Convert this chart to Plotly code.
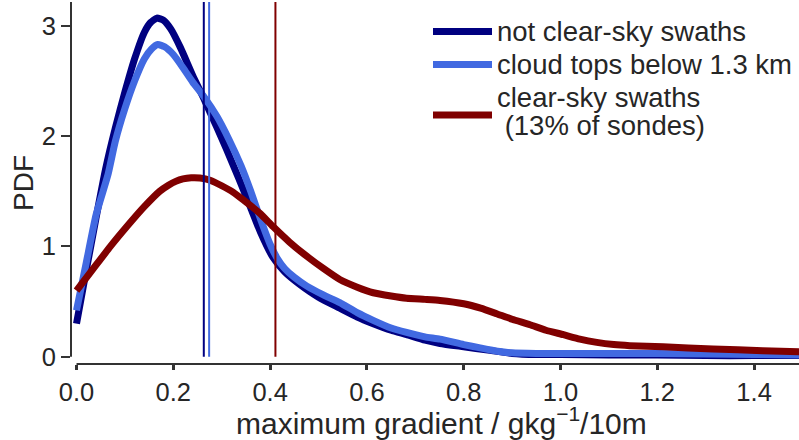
import plotly.graph_objects as go

# ---- data ----
x_notclear = [0, 0.02, 0.04, 0.06, 0.08, 0.10, 0.12, 0.14, 0.153, 0.166, 0.18, 0.195, 0.215, 0.24, 0.263,
              0.29, 0.31, 0.335, 0.36, 0.38, 0.406, 0.43, 0.46, 0.50, 0.544, 0.58, 0.613, 0.65, 0.682,
              0.72, 0.751, 0.80, 0.85, 0.90, 0.95, 1.0, 1.1, 1.2, 1.3, 1.4, 1.5]
y_notclear = [0.30, 0.78, 1.25, 1.70, 2.07, 2.40, 2.70, 2.94, 3.03, 3.07, 3.05, 2.97, 2.80, 2.55, 2.34,
              2.08, 1.88, 1.62, 1.35, 1.13, 0.90, 0.77, 0.66, 0.54, 0.44, 0.36, 0.30, 0.24, 0.20,
              0.15, 0.12, 0.09, 0.06, 0.03, 0.02, 0.02, 0.015, 0.015, 0.01, 0.01, 0.01]

x_lowtops = [0, 0.02, 0.04, 0.065, 0.08, 0.10, 0.12, 0.14, 0.155, 0.168, 0.182, 0.20, 0.22, 0.24, 0.263,
             0.29, 0.315, 0.34, 0.36, 0.38, 0.40, 0.415, 0.43, 0.45, 0.476, 0.51, 0.544, 0.58, 0.613,
             0.65, 0.682, 0.72, 0.751, 0.80, 0.834, 0.87, 0.90, 0.95, 1.0, 1.1, 1.2, 1.3, 1.4, 1.5]
y_lowtops = [0.42, 0.85, 1.28, 1.65, 1.95, 2.25, 2.50, 2.70, 2.79, 2.83, 2.81, 2.74, 2.62, 2.49, 2.36,
             2.18, 1.97, 1.73, 1.50, 1.25, 1.02, 0.89, 0.80, 0.72, 0.64, 0.56, 0.49, 0.40, 0.33,
             0.26, 0.22, 0.18, 0.16, 0.11, 0.08, 0.05, 0.035, 0.03, 0.03, 0.03, 0.03, 0.025, 0.02, 0.015]

x_clear = [0, 0.035, 0.07, 0.104, 0.14, 0.172, 0.19, 0.205, 0.22, 0.237, 0.255, 0.276, 0.30, 0.324,
           0.345, 0.379, 0.406, 0.44, 0.476, 0.51, 0.544, 0.58, 0.613, 0.65, 0.682, 0.72, 0.751,
           0.80, 0.835, 0.868, 0.90, 0.937, 0.97, 1.006, 1.04, 1.075, 1.11, 1.143, 1.212, 1.315,
           1.418, 1.5]
y_clear = [0.60, 0.80, 1.00, 1.18, 1.36, 1.50, 1.555, 1.59, 1.612, 1.622, 1.62, 1.60, 1.55, 1.49,
           1.42, 1.30, 1.18, 1.04, 0.91, 0.80, 0.70, 0.63, 0.58, 0.55, 0.53, 0.52, 0.51,
           0.48, 0.44, 0.39, 0.34, 0.29, 0.24, 0.20, 0.16, 0.13, 0.11, 0.10, 0.09, 0.07,
           0.055, 0.045]

series_names = ["not clear-sky swaths", "cloud tops below 1.3 km", "clear-sky swaths"]
legend_lines = [["not clear-sky swaths"], ["cloud tops below 1.3 km"],
                ["clear-sky swaths", "\u00a0(13% of sondes)"]]
series_colors = ["#000080", "#4169E1", "#800000"]
mean_values = [0.263, 0.274, 0.411]

x_ticks = [0.0, 0.2, 0.4, 0.6, 0.8, 1.0, 1.2, 1.4]
y_ticks = [0, 1, 2, 3]

X_RANGE = [-0.0114, 1.4928]
Y_RANGE = [-0.066, 3.216]

FONT = "Arial, Liberation Sans, Helvetica, sans-serif"
TXT = "#262626"
AX = "#333333"

# figure geometry (pixels) used for placing the hand-built legend
W, H = 799, 440
ML, MR, MT, MB = 71, 0, 2, 76
PW, PH = W - ML - MR, H - MT - MB


def px_x(px):
    return (px - ML) / PW


def px_y(py):
    return (H - MB - py) / PH


fig = go.Figure()
for xs, ys, name, col in zip([x_notclear, x_lowtops, x_clear], [y_notclear, y_lowtops, y_clear],
                             series_names, series_colors):
    fig.add_trace(go.Scatter(x=xs, y=ys, mode="lines", name=name, showlegend=False,
                             line=dict(color=col, width=7, shape="spline", smoothing=0.5)))

for m, col in zip(mean_values, series_colors):
    fig.add_trace(go.Scatter(x=[m, m], y=[0, Y_RANGE[1]], mode="lines", showlegend=False,
                             line=dict(color=col, width=2), hoverinfo="skip"))

# spines (offset, seaborn style)
fig.add_shape(type="line", xref="paper", yref="y", x0=0, x1=0, y0=0, y1=Y_RANGE[1],
              line=dict(color=AX, width=2))
fig.add_shape(type="line", xref="x", yref="paper", x0=0, x1=X_RANGE[1], y0=0, y1=0,
              line=dict(color=AX, width=2))

# legend (sample lines + labels)
sample_y = [31.5, 64.5, 115]
text_y = [[31.5], [64.5], [97.5, 125.5]]
for col, sy, lines, tys in zip(series_colors, sample_y, legend_lines, text_y):
    fig.add_shape(type="line", xref="paper", yref="paper", x0=px_x(433), x1=px_x(492),
                  y0=px_y(sy), y1=px_y(sy), line=dict(color=col, width=7))
    for t, ty in zip(lines, tys):
        fig.add_annotation(text=t, xref="paper", yref="paper", x=px_x(495), y=px_y(ty),
                           xanchor="left", yanchor="middle", showarrow=False,
                           font=dict(size=27.5, color=TXT))

# axis titles
fig.add_annotation(text="maximum gradient / gkg<sup>\u22121</sup>/10m", xref="paper", yref="paper",
                   x=px_x(441.5), y=px_y(421), xanchor="center", yanchor="middle", showarrow=False,
                   font=dict(size=30, color=TXT))
fig.add_annotation(text="PDF", xref="paper", yref="paper", x=px_x(23), y=0.5, textangle=-90,
                   xanchor="center", yanchor="middle", showarrow=False,
                   font=dict(size=28, color=TXT))

fig.update_layout(
    width=W, height=H,
    margin=dict(l=ML, r=MR, t=MT, b=MB, autoexpand=False),
    paper_bgcolor="white", plot_bgcolor="white",
    font=dict(family=FONT, size=25.5, color=TXT),
    showlegend=False,
    xaxis=dict(range=X_RANGE, tickvals=x_ticks, ticktext=[f"{v:.1f}" for v in x_ticks],
               ticks="outside", ticklen=5, tickwidth=3, tickcolor=AX, showgrid=False,
               zeroline=False, showline=False, tickfont=dict(size=25.5, color=TXT)),
    yaxis=dict(range=Y_RANGE, tickvals=y_ticks, ticks="outside", ticklen=9, tickwidth=2,
               tickcolor=AX, showgrid=False, zeroline=False, showline=False,
               tickfont=dict(size=25.5, color=TXT)),
)

fig.write_html("out.html")
